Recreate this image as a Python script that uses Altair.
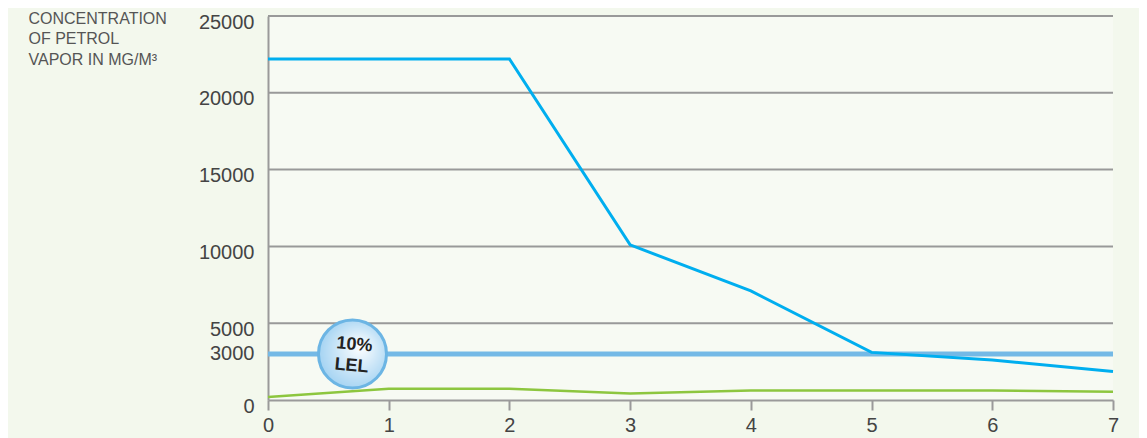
import altair as alt
import pandas as pd

hours = [0, 1, 2, 3, 4, 5, 6, 7]
without_unit = [22200, 22200, 22200, 10100, 7100, 3100, 2600, 1850]
with_unit = [200, 730, 730, 420, 620, 620, 620, 530]
lel_value = 3000
grid_values = [5000, 10000, 15000, 20000, 25000]
y_ticks = [0, 3000, 5000, 10000, 15000, 20000, 25000]
badge_x = 0.7
badge_top = "10%"
badge_bottom = "LEL"
title_lines = ["CONCENTRATION", "OF PETROL", "VAPOR IN MG/M³"]

FONT = "Liberation Sans"

df = pd.DataFrame({"x": hours, "a": without_unit, "b": with_unit})
grid_df = pd.DataFrame({"v": grid_values})
lel_df = pd.DataFrame({"v": [lel_value]})
badge_df = pd.DataFrame({"x": [badge_x], "y": [lel_value], "t1": [badge_top], "t2": [badge_bottom]})

xscale = alt.Scale(domain=[0, 7], nice=False)
yscale = alt.Scale(domain=[0, 25000], nice=False)

x_axis = alt.Axis(
    values=hours, format="d", tickSize=10, tickColor="#9a9a9a", tickWidth=2,
    domainColor="#9a9a9a", domainWidth=2, labelFontSize=20, labelColor="#444444",
    labelFont=FONT, labelPadding=5, labelFlush=False, grid=False, title=None,
)
y_axis = alt.Axis(
    values=y_ticks, format="d", ticks=False, domainColor="#9a9a9a", domainWidth=2,
    labelFontSize=20, labelColor="#444444", labelFont=FONT, labelPadding=14,
    labelFlush=False,
    labelOffset={"condition": {"test": "datum.value == 3000", "value": 0}, "value": 6},
    grid=False, title=title_lines, titleAngle=0, titleAlign="left",
    titleBaseline="top", titleX=-240, titleY=-6, titleFontSize=16,
    titleFontWeight="normal", titleColor="#555555", titleFont=FONT,
    titleLineHeight=20.5,
)

grid = alt.Chart(grid_df).mark_rule(color="#999999", strokeWidth=2).encode(
    y=alt.Y("v:Q", scale=yscale, axis=y_axis)
)

lel = alt.Chart(lel_df).mark_rule(color="#74b9e6", strokeWidth=5).encode(
    y=alt.Y("v:Q", scale=yscale)
)

green = alt.Chart(df).mark_line(color="#8dc63f", strokeWidth=2.5).encode(
    x=alt.X("x:Q", scale=xscale, axis=x_axis),
    y=alt.Y("b:Q", scale=yscale),
)

blue = alt.Chart(df).mark_line(color="#00aeef", strokeWidth=3).encode(
    x=alt.X("x:Q", scale=xscale),
    y=alt.Y("a:Q", scale=yscale),
)

badge = alt.Chart(badge_df).mark_point(
    filled=True,
    size=4624,
    opacity=1,
    fill={
        "gradient": "radial",
        "x1": 0.62, "y1": 0.38, "r1": 0.0,
        "x2": 0.55, "y2": 0.5, "r2": 0.6,
        "stops": [
            {"offset": 0, "color": "#ffffff"},
            {"offset": 1, "color": "#9ccff1"},
        ],
    },
    stroke="#6cb5e4",
    strokeWidth=3,
    strokeOpacity=1,
).encode(x=alt.X("x:Q", scale=xscale), y=alt.Y("y:Q", scale=yscale))

text_style = dict(font=FONT, fontSize=18, fontWeight="bold", color="#222222",
                  angle=5, align="center", baseline="middle")

badge_label1 = alt.Chart(badge_df).mark_text(**text_style).encode(
    x=alt.X("x:Q", scale=xscale), y=alt.Y("y:Q", scale=yscale),
    text="t1:N", xOffset=alt.value(2), yOffset=alt.value(-9),
)
badge_label2 = alt.Chart(badge_df).mark_text(**text_style).encode(
    x=alt.X("x:Q", scale=xscale), y=alt.Y("y:Q", scale=yscale),
    text="t2:N", xOffset=alt.value(-1), yOffset=alt.value(12),
)

chart = alt.layer(grid, lel, green, blue, badge, badge_label1, badge_label2).properties(
    width=845,
    height=384,
    autosize=alt.AutoSizeParams(type="none"),
    padding={"left": 260, "top": 8, "right": 26, "bottom": 38},
    background="#f3f8ed",
).configure_view(
    stroke=None,
    fill="#f7faf3",
)

chart.save("out.html", embed_options={"renderer": "svg", "actions": False})
